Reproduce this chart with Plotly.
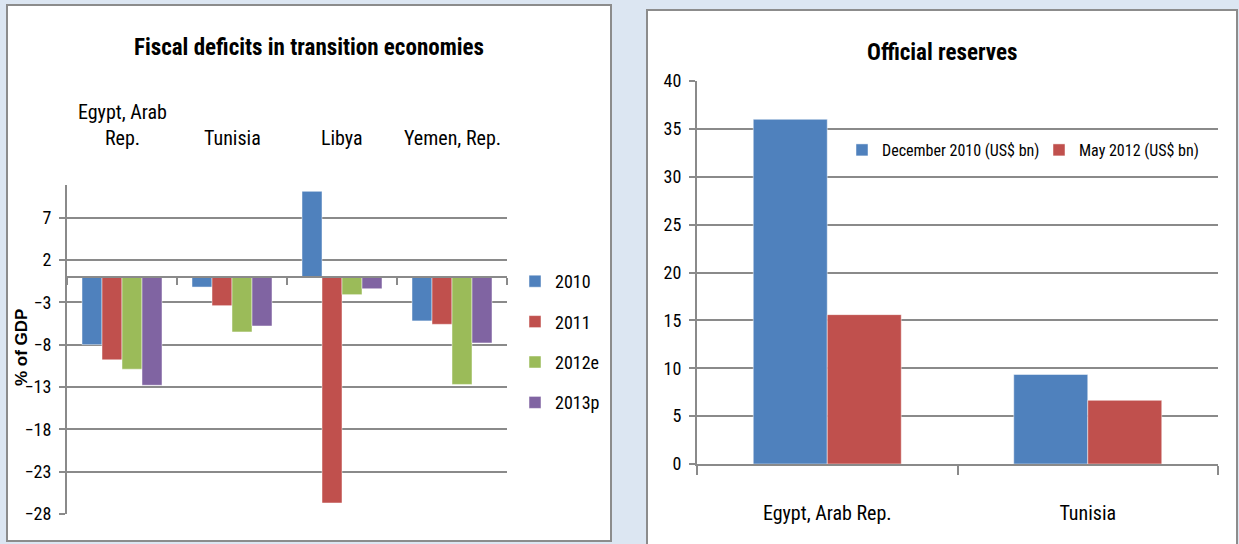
import plotly.graph_objects as go

W, H = 1239, 544

# ---------------- data: fiscal deficits (% of GDP) ----------------
countries = ["Egypt, Arab Rep.", "Tunisia", "Libya", "Yemen, Rep."]
country_labels = ["Egypt, Arab<br>Rep.", "Tunisia", "Libya", "Yemen, Rep."]
years = ["2010", "2011", "2012e", "2013p"]
deficit_2010 = [-8.0, -1.2, 10.1, -5.2]
deficit_2011 = [-9.8, -3.4, -26.7, -5.6]
deficit_2012e = [-10.9, -6.5, -2.1, -12.7]
deficit_2013p = [-12.8, -5.8, -1.4, -7.8]
deficit_ticks = [-28, -23, -18, -13, -8, -3, 2, 7]

# ---------------- data: official reserves (US$ bn) ----------------
reserve_countries = ["Egypt, Arab Rep.", "Tunisia"]
reserve_series = ["December 2010 (US$ bn)", "May 2012 (US$ bn)"]
reserves_dec2010 = [36.0, 9.35]
reserves_may2012 = [15.6, 6.65]
reserve_ticks = [0, 5, 10, 15, 20, 25, 30, 35, 40]

# ---------------- styling ----------------
COLORS = ["#4F81BD", "#C0504D", "#9BBB59", "#8064A2"]
GRID = "#8a8a8a"
FONT = "Liberation Sans Narrow, Arial Narrow, Roboto Condensed, Roboto, sans-serif"
BG = "#dce6f2"


def px(x):
    return x / W


def py(y):
    return 1 - y / H


fig = go.Figure()

# left chart bars
left_vals = [deficit_2010, deficit_2011, deficit_2012e, deficit_2013p]
bw_left = 20 / 110
for i, (name, vals) in enumerate(zip(years, left_vals)):
    fig.add_trace(go.Bar(
        x=countries, y=vals, name=name,
        marker=dict(color=COLORS[i], line=dict(color="rgba(255,255,255,0.6)", width=0.8)),
        width=bw_left, offset=-2 * bw_left + i * bw_left,
        xaxis="x", yaxis="y", legend="legend", legendgroup=name,
    ))

# right chart bars
right_vals = [reserves_dec2010, reserves_may2012]
bw_right = 74 / 260.5
for i, (name, vals) in enumerate(zip(reserve_series, right_vals)):
    fig.add_trace(go.Bar(
        x=reserve_countries, y=vals, name=name,
        marker=dict(color=COLORS[i], line=dict(color="rgba(255,255,255,0.6)", width=0.8)),
        width=bw_right, offset=-bw_right + i * bw_right,
        xaxis="x2", yaxis="y2", legend="legend2",
    ))

# axis geometry
L_dom_x = [px(67), px(507)]
L_dom_y = [py(514), py(185)]
L_range = [-28, 10.85]
zero_pos = L_dom_y[0] + (0 - L_range[0]) / (L_range[1] - L_range[0]) * (L_dom_y[1] - L_dom_y[0])

R_dom_x = [px(697), px(1218)]
R_dom_y = [py(464), py(81)]

fig.update_layout(
    width=W, height=H,
    margin=dict(l=0, r=0, t=0, b=0, pad=0),
    paper_bgcolor=BG, plot_bgcolor="rgba(0,0,0,0)",
    font=dict(family=FONT, color="#000000", size=18),
    barmode="group",
    showlegend=True,
    xaxis=dict(
        domain=L_dom_x, type="category", anchor="free", position=zero_pos, automargin=False,
        showline=True, linecolor=GRID, linewidth=2,
        ticks="outside", tickson="boundaries", ticklen=7, tickcolor=GRID, tickwidth=2,
        showticklabels=False, showgrid=False, zeroline=False,
    ),
    yaxis=dict(
        domain=L_dom_y, range=L_range, anchor="x", automargin=False,
        tickvals=deficit_ticks, showgrid=True, gridcolor=GRID, gridwidth=1.5,
        showline=True, linecolor=GRID, linewidth=2,
        ticks="outside", ticklen=6, tickcolor=GRID, tickwidth=2,
        zeroline=False, tickfont=dict(size=18), ticklabelstandoff=4,
    ),
    xaxis2=dict(
        domain=R_dom_x, type="category", anchor="y2", automargin=False,
        showline=True, linecolor=GRID, linewidth=2,
        ticks="outside", tickson="boundaries", ticklen=9, tickcolor=GRID, tickwidth=2,
        showgrid=False, zeroline=False, tickfont=dict(size=20), ticklabelstandoff=30,
    ),
    yaxis2=dict(
        domain=R_dom_y, range=[0, 40], anchor="x2", automargin=False,
        tickvals=reserve_ticks, showgrid=True, gridcolor=GRID, gridwidth=1.5,
        showline=True, linecolor=GRID, linewidth=2,
        ticks="outside", ticklen=6, tickcolor=GRID, tickwidth=2,
        zeroline=False, tickfont=dict(size=18), ticklabelstandoff=4,
    ),
    legend=dict(
        x=px(515), y=py(263), xanchor="left", yanchor="top",
        font=dict(size=18), tracegroupgap=14, bgcolor="rgba(0,0,0,0)",
        itemclick=False, itemdoubleclick=False,
    ),
    legend2=dict(
        orientation="h", x=px(1236), y=py(150), xanchor="right", yanchor="middle",
        font=dict(size=16), bgcolor="rgba(0,0,0,0)", entrywidth=152,
        itemclick=False, itemdoubleclick=False,
    ),
    shapes=[
        dict(type="rect", xref="paper", yref="paper", layer="below",
             x0=px(7), x1=px(611), y0=py(541), y1=py(5),
             fillcolor="white", line=dict(color="#8c8c8c", width=2)),
        dict(type="rect", xref="paper", yref="paper", layer="below",
             x0=px(647), x1=px(1237), y0=py(570), y1=py(10),
             fillcolor="white", line=dict(color="#8c8c8c", width=2)),
    ],
)

annotations = [
    dict(text="<b>Fiscal deficits in transition economies</b>", xref="paper", yref="paper",
         x=px(309), y=py(47), xanchor="center", yanchor="middle", showarrow=False,
         font=dict(size=23)),
    dict(text="<b>Official reserves</b>", xref="paper", yref="paper",
         x=px(942), y=py(53), xanchor="center", yanchor="middle", showarrow=False,
         font=dict(size=23)),
    dict(text="<b>% of GDP</b>", xref="paper", yref="paper",
         x=px(21), y=py(348), xanchor="center", yanchor="middle", showarrow=False,
         textangle=-90, font=dict(size=17, family="Liberation Sans, Arial, sans-serif")),
]
for c, lab in zip(countries, country_labels):
    annotations.append(dict(
        text=lab, xref="x", yref="paper", x=c, y=py(152),
        xanchor="center", yanchor="bottom", showarrow=False, font=dict(size=20),
    ))
fig.update_layout(annotations=annotations)

post = (
    "var h=document.documentElement,b=document.body;"
    "h.style.margin='0';h.style.padding='0';h.style.overflow='hidden';h.style.background='" + BG + "';"
    "b.style.margin='0';b.style.padding='0';b.style.overflow='hidden';b.style.background='" + BG + "';"
)
fig.write_html("out.html", config={"displayModeBar": False}, post_script=post)
